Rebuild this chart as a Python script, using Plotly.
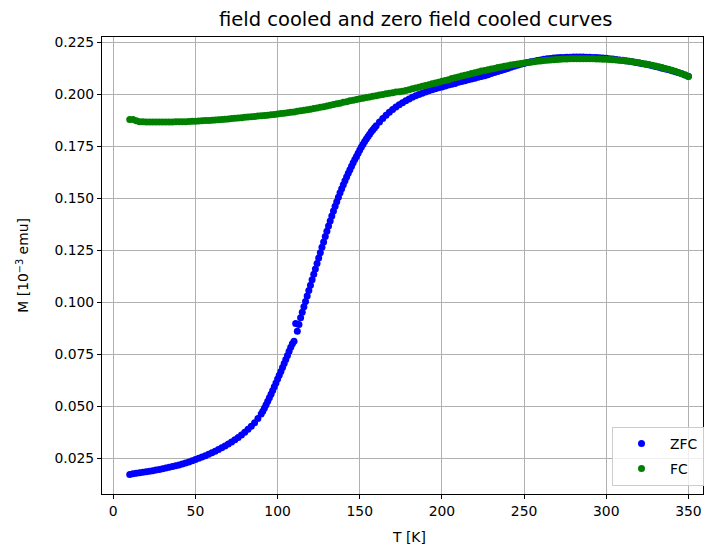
import plotly.graph_objects as go

# ---------------- data ----------------
# ZFC: temperatures (K) sampled every 2 K below 90 K and above 160 K, every 1 K in between
T_zfc = list(range(10, 91, 2)) + list(range(91, 161, 1)) + list(range(162, 351, 2))
M_zfc = [
    # 10 .. 90 (step 2)
    0.0172, 0.0175, 0.0178, 0.0180, 0.0182, 0.0185, 0.0187, 0.0190, 0.0193, 0.0196,
    0.0199, 0.0203, 0.0206, 0.0210, 0.0214, 0.0218, 0.0222, 0.0227, 0.0232, 0.0238,
    0.0244, 0.0250, 0.0256, 0.0262, 0.0269, 0.0276, 0.0284, 0.0292, 0.0300, 0.0309,
    0.0318, 0.0328, 0.0339, 0.0350, 0.0362, 0.0375, 0.0389, 0.0404, 0.0421, 0.0441,
    0.0462,
    # 91 .. 160 (step 1)
    0.0476, 0.0491, 0.0507, 0.0524, 0.0541, 0.0558, 0.0576, 0.0594, 0.0612, 0.0631,
    0.0649, 0.0667, 0.0686, 0.0705, 0.0724, 0.0744, 0.0764, 0.0784, 0.0800, 0.0812,
    0.0898, 0.0860, 0.0893, 0.0925, 0.0952, 0.0978, 0.1004, 0.1030, 0.1056, 0.1082,
    0.1108, 0.1134, 0.1160, 0.1186, 0.1212, 0.1238, 0.1264, 0.1290, 0.1316, 0.1341,
    0.1366, 0.1390, 0.1414, 0.1438, 0.1461, 0.1483, 0.1505, 0.1526, 0.1546, 0.1565,
    0.1584, 0.1602, 0.1620, 0.1637, 0.1654, 0.1670, 0.1686, 0.1701, 0.1716, 0.1732,
    0.1746, 0.1760, 0.1773, 0.1785, 0.1797, 0.1808, 0.1819, 0.1829, 0.1839, 0.1848,
    # 162 .. 350 (step 2)
    0.1866, 0.1883, 0.1899, 0.1913, 0.1926, 0.1938, 0.1949, 0.1959, 0.1968, 0.1977,
    0.1985, 0.1992, 0.1999, 0.2005, 0.2011, 0.2016, 0.2021, 0.2026, 0.2031, 0.2035,
    0.2040, 0.2044, 0.2048, 0.2052, 0.2057, 0.2061, 0.2065, 0.2069, 0.2073, 0.2077,
    0.2081, 0.2085, 0.2089, 0.2094, 0.2099, 0.2104, 0.2109, 0.2114, 0.2119, 0.2124,
    0.2129, 0.2134, 0.2139, 0.2144, 0.2148, 0.2152, 0.2156, 0.2159, 0.2162, 0.2165,
    0.2168, 0.2170, 0.2172, 0.2174, 0.2175, 0.2176, 0.2177, 0.2178, 0.2178, 0.2179,
    0.2179, 0.2179, 0.2179, 0.2178, 0.2178, 0.2177, 0.2176, 0.2175, 0.2174, 0.2173,
    0.2171, 0.2169, 0.2167, 0.2165, 0.2163, 0.2161, 0.2159, 0.2156, 0.2153, 0.2150,
    0.2147, 0.2144, 0.2141, 0.2137, 0.2133, 0.2129, 0.2125, 0.2121, 0.2117, 0.2113,
    0.2108, 0.2103, 0.2098, 0.2092, 0.2086,
]

# FC: temperatures (K) every 2 K
T_fc = list(range(10, 351, 2))
M_fc = [
    0.1878, 0.1878, 0.1872, 0.1868, 0.1867, 0.1866, 0.1866, 0.1866, 0.1866, 0.1866,
    0.1866, 0.1866, 0.1866, 0.1866, 0.1867, 0.1867, 0.1868, 0.1868, 0.1869, 0.1870,
    0.1870, 0.1871, 0.1872, 0.1873, 0.1874, 0.1875, 0.1876, 0.1877, 0.1878, 0.1880,
    0.1881, 0.1883, 0.1884, 0.1886, 0.1887, 0.1889, 0.1890, 0.1892, 0.1893, 0.1895,
    0.1896, 0.1898, 0.1899, 0.1901, 0.1903, 0.1905, 0.1907, 0.1909, 0.1911, 0.1913,
    0.1915, 0.1918, 0.1920, 0.1923, 0.1925, 0.1928, 0.1931, 0.1934, 0.1937, 0.1940,
    0.1943, 0.1947, 0.1950, 0.1954, 0.1957, 0.1961, 0.1964, 0.1968, 0.1971, 0.1975,
    0.1978, 0.1981, 0.1984, 0.1987, 0.1990, 0.1993, 0.1996, 0.1999, 0.2002, 0.2005,
    0.2007, 0.2010, 0.2012, 0.2014, 0.2018, 0.2022, 0.2026, 0.2030, 0.2034, 0.2038,
    0.2042, 0.2046, 0.2050, 0.2054, 0.2058, 0.2062, 0.2066, 0.2070, 0.2075, 0.2079,
    0.2083, 0.2087, 0.2091, 0.2095, 0.2099, 0.2103, 0.2107, 0.2111, 0.2114, 0.2118,
    0.2121, 0.2124, 0.2128, 0.2131, 0.2134, 0.2137, 0.2140, 0.2143, 0.2145, 0.2148,
    0.2150, 0.2152, 0.2154, 0.2156, 0.2158, 0.2160, 0.2162, 0.2163, 0.2165, 0.2166,
    0.2167, 0.2168, 0.2169, 0.2169, 0.2170, 0.2170, 0.2170, 0.2170, 0.2170, 0.2170,
    0.2170, 0.2170, 0.2169, 0.2169, 0.2168, 0.2168, 0.2167, 0.2166, 0.2165, 0.2163,
    0.2162, 0.2160, 0.2158, 0.2156, 0.2154, 0.2151, 0.2148, 0.2145, 0.2142, 0.2139,
    0.2136, 0.2132, 0.2128, 0.2124, 0.2120, 0.2115, 0.2110, 0.2104, 0.2098, 0.2092,
    0.2085,
]

x_ticks = [0, 50, 100, 150, 200, 250, 300, 350]
y_ticks = [0.025, 0.050, 0.075, 0.100, 0.125, 0.150, 0.175, 0.200, 0.225]

title_text = "field cooled and zero field cooled curves"
x_label = "T [K]"
y_label = "M [10<sup>\u22123</sup> emu]"

# ---------------- figure ----------------
FONT = "DejaVu Sans"
W, H = 704, 549
L, R, T, B = 102, 0, 37, 55
PW, PH = W - L - R, H - T - B

fig = go.Figure()
fig.add_trace(go.Scatter(x=T_zfc, y=M_zfc, mode="markers", name="ZFC",
                         legendgroup="a",
                         marker=dict(color="#0000ff", size=7, line=dict(width=0))))
fig.add_trace(go.Scatter(x=T_fc, y=M_fc, mode="markers", name="FC",
                         legendgroup="b",
                         marker=dict(color="#008000", size=7, line=dict(width=0))))

axis_common = dict(
    showline=True, linecolor="black", linewidth=1, mirror=True,
    showgrid=True, gridcolor="#b0b0b0", gridwidth=1,
    zeroline=False, ticks="outside", ticklen=4, tickwidth=1, tickcolor="black",
    tickfont=dict(family=FONT, size=13.9, color="black"),
)

fig.update_layout(
    width=W, height=H,
    margin=dict(l=L, r=R, t=T, b=B, pad=0),
    paper_bgcolor="white", plot_bgcolor="white",
    font=dict(family=FONT, size=13.9, color="black"),
    xaxis=dict(range=[-6.87, 358.9], tickvals=x_ticks,
               ticktext=[str(v) for v in x_ticks], **axis_common),
    yaxis=dict(range=[0.0078, 0.2275], tickvals=y_ticks,
               ticktext=[f"{v:.3f}" for v in y_ticks], **axis_common),
    showlegend=True,
    legend=dict(x=(613 - L) / PW, y=(494 - 486) / PH,
                xanchor="left", yanchor="bottom",
                bgcolor="rgba(255,255,255,0.8)", bordercolor="#cccccc", borderwidth=1,
                font=dict(family=FONT, size=13.9, color="black"),
                itemwidth=47, tracegroupgap=4, traceorder="grouped"),
    annotations=[
        dict(text=title_text, xref="paper", yref="paper",
             x=(416 - L) / PW, y=1 + (37 - 20) / PH,
             xanchor="center", yanchor="middle", showarrow=False,
             font=dict(family=FONT, size=19.5, color="black")),
        dict(text=x_label, xref="paper", yref="paper",
             x=(409.5 - L) / PW, y=-(537 - 494) / PH,
             xanchor="center", yanchor="middle", showarrow=False,
             font=dict(family=FONT, size=13.9, color="black")),
        dict(text=y_label, xref="paper", yref="paper", textangle=-90,
             x=-(L - 22) / PW, y=0.5,
             xanchor="center", yanchor="middle", showarrow=False,
             font=dict(family=FONT, size=13.9, color="black")),
    ],
)

fig.write_html("out.html")
